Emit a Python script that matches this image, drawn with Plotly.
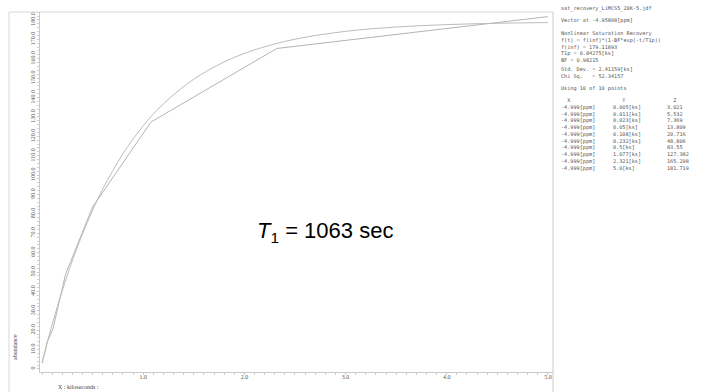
import plotly.graph_objects as go

t_ks = [0.005, 0.011, 0.023, 0.05, 0.108, 0.232, 0.5, 1.077, 2.321, 5.0]
intensity = [3.021, 5.532, 7.369, 13.809, 20.716, 48.806, 83.55, 127.382, 165.298, 181.719]

fit_t = [0.0, 0.02, 0.05, 0.1, 0.15, 0.2, 0.3, 0.4, 0.5, 0.6, 0.8, 1.0, 1.2, 1.5, 1.8, 2.1, 2.5, 3.0, 3.5, 4.0, 4.5, 5.0]
fit_y = [3.20, 7.32, 13.33, 22.88, 31.88, 40.36, 55.89, 69.67, 81.92, 92.80, 111.03, 125.42, 136.76,
         149.45, 158.34, 164.56, 170.06, 174.12, 176.36, 177.59, 178.28, 178.65]

y_tickvals = [0, 10, 20, 30, 40, 50, 60, 70, 80, 90, 100, 110, 120, 130, 140, 150, 160, 170, 180]
y_ticktext = ["0", "10.0", "20.0", "30.0", "40.0", "50.0", "60.0", "70.0", "80.0", "90.0", "100.0",
              "110.0", "120.0", "130.0", "140.0", "150.0", "160.0", "170.0", "180.0"]
x_tickvals = [1, 2, 3, 4, 5]
x_ticktext = ["1.0", "2.0", "3.0", "4.0", "5.0"]

file_line = "sat_recovery_LiMCS5_20K-5.jdf"
vector_line = "Vector at -4.95868[ppm]"
fit_lines = [
    "Nonlinear Saturation Recovery",
    "f(t) = f(inf)*(1-BF*exp(-t/T1p))",
    "f(inf) = 179.11893",
    "T1p = 0.84275[ks]",
    "BF = 0.98215",
]
stat_lines = [
    "Std. Dev. = 2.41159[ks]",
    "Chi Sq.   = 52.34157",
]
using_line = "Using 10 of 10 points"
col_x = ["-4.999[ppm]"] * 10
col_y = ["0.005[ks]", "0.011[ks]", "0.023[ks]", "0.05[ks]", "0.108[ks]",
         "0.232[ks]", "0.5[ks]", "1.077[ks]", "2.321[ks]", "5.0[ks]"]
col_z = ["3.021", "5.532", "7.369", "13.809", "20.716", "48.806", "83.55", "127.382", "165.298", "181.719"]

W, H = 724, 392
L, R, T, B = 40, 171, 12, 20
pw, ph = W - L - R, H - T - B

def px(xpix):
    return (xpix - L) / pw

def py(ypix):
    return (H - B - ypix) / ph

fig = go.Figure()
fig.add_trace(go.Scatter(x=t_ks, y=intensity, mode="lines",
                         line=dict(color="#b4b4b4", width=1), hoverinfo="skip"))
fig.add_trace(go.Scatter(x=fit_t, y=fit_y, mode="lines", line_shape="spline",
                         line=dict(color="#bcbcbc", width=1), hoverinfo="skip"))

mono = "DejaVu Sans Mono"
tcol = "#555555"
FS = 5.2
ann = []

def block(xp, ytop, lines):
    ann.append(dict(x=px(xp), y=py(ytop - 3), xref="paper", yref="paper",
                    text="<br>".join(lines), showarrow=False, align="left", borderpad=0,
                    xanchor="left", yanchor="top", font=dict(family=mono, size=FS, color=tcol)))

block(560, 7, [file_line])
block(560, 19, [vector_line])
block(560, 32, fit_lines)
block(560, 68, stat_lines)
block(560, 87, [using_line])
block(560, 99, ["  X"] + col_x)
block(612, 99, ["   Y"] + col_y)
block(666, 99, ["  Z"] + col_z)

ann.append(dict(x=px(325), y=py(232), xref="paper", yref="paper",
                text="<i>T</i><sub>1</sub> = 1063 sec", showarrow=False,
                xanchor="center", yanchor="middle",
                font=dict(family="Liberation Sans, Arial", size=22, color="#000000")))
ann.append(dict(x=px(15), y=py(347), xref="paper", yref="paper", text="abundance",
                showarrow=False, textangle=-90, xanchor="center", yanchor="middle",
                font=dict(family="Liberation Serif", size=6, color="#444444")))
ann.append(dict(x=px(57), y=py(387), xref="paper", yref="paper", text="X : kiloseconds :",
                showarrow=False, xanchor="left", yanchor="middle", borderpad=0,
                font=dict(family="Liberation Serif", size=6, color="#444444")))

shapes = [
    dict(type="line", xref="paper", yref="paper", x0=px(9), x1=px(9), y0=py(12), y1=py(392),
         line=dict(color="#d8d8d8", width=1)),
    dict(type="line", xref="paper", yref="paper", x0=px(9), x1=px(553), y0=py(12), y1=py(12),
         line=dict(color="#d8d8d8", width=1)),
    dict(type="line", xref="paper", yref="paper", x0=px(553), x1=px(553), y0=py(12), y1=py(392),
         line=dict(color="#cccccc", width=1)),
]

fig.update_layout(
    width=W, height=H, margin=dict(l=L, r=R, t=T, b=B, autoexpand=False),
    paper_bgcolor="white", plot_bgcolor="white", showlegend=False,
    annotations=ann, shapes=shapes,
    xaxis=dict(range=[-0.02, 5.05], tickvals=x_tickvals, ticktext=x_ticktext,
               showgrid=False, zeroline=False, showline=True, linecolor="#c8c8c8", linewidth=1,
               ticks="outside", ticklen=2, tickcolor="#c8c8c8", ticklabelstandoff=-3,
               minor=dict(ticks="outside", ticklen=2, dtick=0.1, tickcolor="#d0d0d0"),
               tickfont=dict(family="Liberation Serif", size=6, color="#555555")),
    yaxis=dict(range=[-1.55, 184.1], tickvals=y_tickvals, ticktext=y_ticktext, tickangle=-90,
               showgrid=False, zeroline=False, showline=True, linecolor="#c8c8c8", linewidth=1,
               ticks="outside", ticklen=2, tickcolor="#c8c8c8",
               minor=dict(ticks="outside", ticklen=2, dtick=2, tickcolor="#d0d0d0"),
               tickfont=dict(family="Liberation Serif", size=6, color="#555555")),
)

fig.write_html("out.html", config={"displayModeBar": False},
               post_script="document.body.style.margin='0px';document.body.style.overflow='hidden';")
